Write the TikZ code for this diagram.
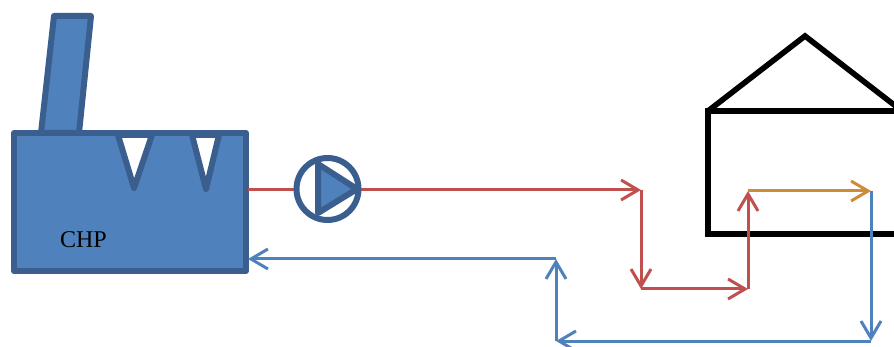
\documentclass[tikz,border=0pt]{standalone}
\usepackage{fontspec}
\usepackage{xcolor}
\usetikzlibrary{arrows.meta,positioning}
\setmainfont{Liberation Serif}
\definecolor{plantfill}{HTML}{4F81BD}
\definecolor{plantedge}{HTML}{3A5F8F}
\definecolor{hotline}{HTML}{C0504D}
\definecolor{warmline}{HTML}{CD8C3A}
\definecolor{coldline}{HTML}{4F81BD}

\begin{document}
\begin{tikzpicture}[x=1pt,y=-1pt,>={Straight Barb[length=17pt,width=20pt,line width=3pt]},
    plant/.style={draw=plantedge,fill=plantfill,line width=6pt,line join=round},
    notch/.style={draw=plantedge,fill=white,line width=6pt,line join=round},
    hot/.style={draw=hotline,line width=3pt,->},
    warm/.style={draw=warmline,line width=3pt,->},
    cold/.style={draw=coldline,line width=3pt,->},
    wall/.style={draw=black,line width=5.6pt,line join=miter}]
    \clip (0,0) rectangle (894,347);

    % house
    \draw[wall] (708,111) rectangle (910,234);
    \draw[wall] (708,111)--(805,36)--(902,111);

    % plant
    \draw[plant] (54,16)--(91,16)--(79,133)--(41,133)--cycle;
    \node[plant,rectangle,minimum width=232pt,minimum height=138pt,inner sep=0pt,
          outer sep=0pt] (chp) at (130,202) {};
    \draw[notch] (118,135)--(152,135)--(134,188)--cycle;
    \draw[notch] (192,135)--(219,135)--(206,189)--cycle;
    \node[font=\fontsize{24}{26}\selectfont] (chplabel) at (83.5,240) {CHP};

    \coordinate (hot1) at (641,190);
    \coordinate (hot2) at (641,289);
    \coordinate (hot3) at (748,289);
    \coordinate (hot4) at (748,191);
    \coordinate (warm1) at (871,191);
    \coordinate (cold1) at (871,341);
    \coordinate (cold2) at (556,341);
    \coordinate (cold3) at (556,259);
    \coordinate (chpin) at (248,259);
    \coordinate (chpout) at (248,190);

    \draw[hot] (chpout)--(hot1);
    \draw[hot] (hot1)--(hot2);
    \draw[hot] (hot2)--(hot3);
    \draw[hot] (hot3)--(hot4);
    \draw[warm] (hot4)--(warm1);
    \draw[cold] (warm1)--(cold1);
    \draw[cold] (cold1)--(cold2);
    \draw[cold] (cold2)--(cold3);
    \draw[cold] (cold3)--(chpin);

    % pump
    \node[draw=plantedge,fill=white,circle,line width=6pt,minimum size=62pt,
          inner sep=0pt] (pump) at (327.5,189) {};
    \draw[plant] (318,164)--(357,189)--(318,213)--cycle;
\end{tikzpicture}
\end{document}
